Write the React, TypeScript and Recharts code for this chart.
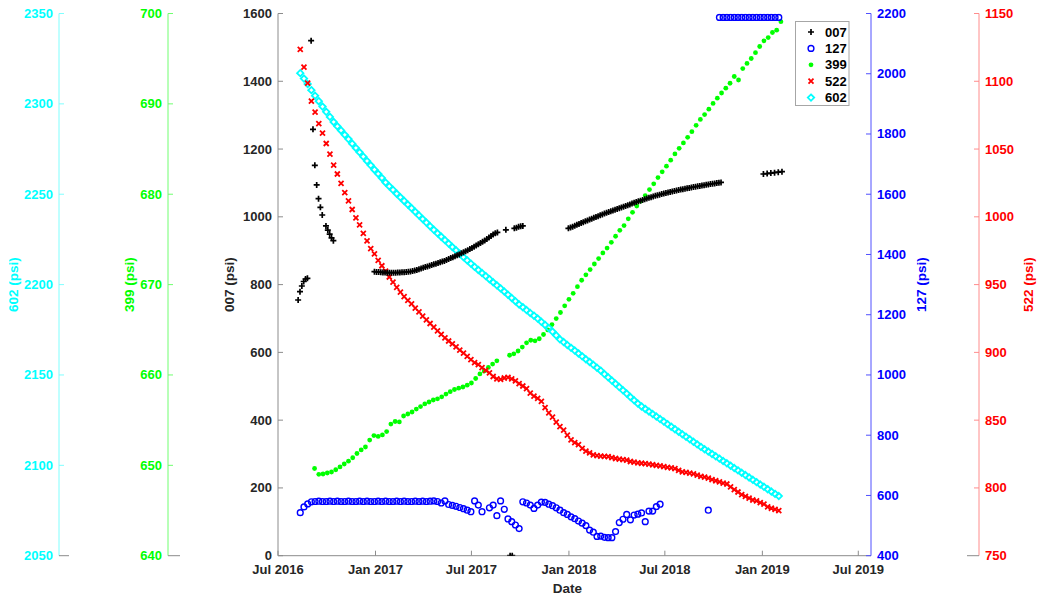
import React from 'react';
import { ScatterChart, Scatter, XAxis, YAxis, Legend } from 'recharts';

const FONT = 'Arial, "Liberation Sans", Helvetica, sans-serif';
const DAY = 86400000;

// colours
const C007 = '#000000';
const C127 = '#0000ff';
const C399 = '#00ff00';
const C522 = '#ff0000';
const C602 = '#00ffff';
const TXT = '#262626';
const GREY = '#8c8c8c';

// x axis (dates)
const xStart = '2016-07-01';
const xEnd = '2019-07-25';
const xTickDates = ['2016-07-01', '2017-01-01', '2017-07-01', '2018-01-01', '2018-07-01', '2019-01-01', '2019-07-01'];
const MONTHS = ['Jan', 'Feb', 'Mar', 'Apr', 'May', 'Jun', 'Jul', 'Aug', 'Sep', 'Oct', 'Nov', 'Dec'];

// y axis ticks
const ticks007 = [0, 200, 400, 600, 800, 1000, 1200, 1400, 1600];
const ticks127 = [400, 600, 800, 1000, 1200, 1400, 1600, 1800, 2000, 2200];
const ticks399 = [640, 650, 660, 670, 680, 690, 700];
const ticks522 = [750, 800, 850, 900, 950, 1000, 1050, 1100, 1150];
const ticks602 = [2050, 2100, 2150, 2200, 2250, 2300, 2350];

type Run = { start: string; step: number; values: (number | null)[] };

// 007 (psi) - irregular sampling, several runs
const vals007a = [754.6, 779.1, 795.9, 809.2, 816.5, 818.6, null, 1519.8, 1258.3, 1152.1, 1094, 1053.5, 1028.1, 1005.4, null, 973, 961, 949, 938, 929.6];
const vals007b = [
  838, 837.5, 837, 836.5, 836, 835.5, 835.3, 835.2, 835.1, 835.1, 835.2, 835.4, 835.7, 836.2, 836.7, 837.2, 837.7, 838.3, 839.8, 841.5,
  843.3, 845.4, 847.5, 849.5, 851.7, 853.5, 855.5, 857.6, 859.7, 861.7, 863.7, 865.8, 867.8, 870, 872.7, 875.5, 878.3, 881, 883.7, 886.4,
  889, 892.2, 895.3, 898.5, 901.7, 905, 908.3, 911.7, 915.2, 918.8, 922.5, 926.2, 930, 934.3, 938.7, 943.1, 947.5, 951.2, 954,
];
const vals007c = [961.7];
const vals007d = [0, 0];
const vals007e = [966, 968, 970.5, 972, 973];
const vals007f = [
  966, 968.5, 971, 973.6, 976.3, 979, 981.7, 984.2, 986.8, 989.4, 991.9, 994.4, 997, 999.5, 1002, 1004.6, 1007, 1009.5, 1011.8, 1014.1,
  1016.3, 1018.6, 1020.9, 1023.1, 1025.3, 1027.6, 1029.9, 1032.1, 1034.4, 1036.7, 1039, 1041.4, 1043.6, 1045.7, 1047.8, 1049.9, 1052, 1054.1, 1056.1, 1058,
  1060, 1061.9, 1063.7, 1065.5, 1067.2, 1068.8, 1070.3, 1071.8, 1073.4, 1074.9, 1076.2, 1077.6, 1079, 1080.4, 1081.6, 1082.9, 1084.1, 1085.4, 1086.7, 1087.9,
  1089.1, 1090.2, 1091.3, 1092.4, 1093.4, 1094.5, 1095.5, 1096.6, 1097.6, 1098.7, 1099.7, 1100.6, 1101.5,
];
const vals007g = [1126.4, 1127.7, 1129, 1130.4, 1131.8, 1133.2];

// weekly readings from 2016-08-12
const weeklyStart = '2016-08-12';

const vals127 = [
  543, 562, 572, 579,
  580, 581, 580, 580, 581, 580, 581, 580, 580, 581, 580, 580, 581, 580, 581, 580,
  580, 581, 580, 581, 580, 580, 581, 580, 581, 580, 580, 581, 580, 581, 580, 581,
  582, 580, 575, 582, 570, 567, 564, 560, 556, 551, 546, 582, 568, 546,
  null,
  559, 568, 533, 582, 554, 522, 513, 502, 490,
  579, 575, 568, 557, 568, 578, 577, 571, 566, 559, 551, 543, 537, 529, 523, 515, 508, 500, 485, 478,
  464, 465, 461, 460, 460, 480, 510, 521, 537, 519, 535, 538, 542, 513, 548, 548, 563, 571,
  null, null, null, null, null, null, null, null, null, null, null, null,
  551, null, null,
  2187, 2187, 2187, 2187, 2187, 2187, 2187, 2187, 2187, 2187, 2187, 2187, 2187, 2187, 2187, 2187, 2187,
];

const vals522 = [
  1123.6, 1110.5, 1098.7, 1085.4, 1077.3, 1068.8, 1061.8, 1054.1, 1046.3, 1038.2, 1031.6, 1024.6, 1017.9, 1011.7, 1005.4, 999.3, 994, 987.8, 982.2, 976.6,
  972.6, 967.8, 963.9, 960, 955.6, 951.9, 947.9, 944.5, 941.2, 938.3, 935.7, 932.7, 929.8, 926.8, 923.9, 921.3, 918.7, 915.8, 913.2, 910.7,
  908.4, 906.2, 904, 901.7, 899.5, 897, 894.7, 892.5, 891, 888.8, 886.8, 884.8, 882.2, 880.4, 880, 881.1, 881.6, 880.4, 878.9, 877,
  875.2, 873.3, 870, 867.8, 866, 863.8, 859.3, 855.3, 852.3, 848.6, 845.3, 842.7, 839, 835.4, 833.5, 832, 829.1, 827.2, 825.8, 824.3,
  823.8, 823.5, 823.3, 823.1, 822.4, 821.7, 821.3, 820.9, 820.5, 819.5, 819, 818.5, 818.2, 817.9, 817.5, 817.1, 816.7, 816.3, 815.7, 815.2,
  814.8, 814.3, 812.9, 811.8, 811.4, 811, 810.4, 809.5, 808.6, 807.9, 807.2, 806.2, 805.3, 804.4, 803.6, 802.9, 800.8, 798.8, 797, 795.1,
  793.8, 792.4, 791.1, 790.4, 789.2, 788.1, 786.1, 785, 784.2, 783.3,
];

const vals602 = [
  2317, 2314, 2311, 2307.6, 2304.5, 2301.5, 2298.5, 2295.6, 2292.8, 2290, 2287.6, 2285.3, 2282.9, 2280.5, 2278, 2275.6, 2273.2, 2270.8, 2268.4, 2266,
  2263.6, 2261.3, 2259, 2256.5, 2254.4, 2252.4, 2250.3, 2248.3, 2246.3, 2244.3, 2242.3, 2240.3, 2238.3, 2236.3, 2234.3, 2232.3, 2230.3, 2228.4, 2226.5, 2224.6,
  2222.7, 2220.8, 2219, 2217.1, 2215.2, 2213.4, 2211.6, 2209.8, 2208.1, 2206.4, 2204.7, 2203, 2201.3, 2199.6, 2197.9, 2196.2, 2194.4, 2192.6, 2190.8, 2189,
  2187.5, 2185.9, 2184.3, 2182.8, 2181.2, 2179.4, 2177.7, 2176, 2174, 2171.9, 2169.7, 2168.2, 2166.6, 2165, 2163.5, 2161.9, 2160.3, 2158.7, 2157.2, 2155.6,
  2154, 2152.4, 2150.5, 2148.7, 2146.9, 2145.1, 2143.3, 2141.5, 2139.7, 2137.8, 2136, 2134.2, 2132.6, 2131.2, 2129.8, 2128.4, 2127, 2125.6, 2124.2, 2122.8,
  2121.4, 2120, 2118.6, 2117.2, 2115.8, 2114.4, 2113, 2111.6, 2110.2, 2108.9, 2107.6, 2106.3, 2105, 2103.7, 2102.4, 2101.1, 2099.8, 2098.5, 2097.2, 2095.9,
  2094.6, 2093.3, 2092, 2090.7, 2089.4, 2088.1, 2086.8, 2085.5, 2084.2, 2083,
];

// 399 (psi) - every 8 days from 2016-09-08
const start399 = '2016-09-08';
const vals399 = [
  649.65, 649.0, 649.04, 649.15, 649.26, 649.51, 649.82, 650.15, 650.46, 650.84, 651.31, 651.7, 652.03, 652.8, 653.29, 653.2, 653.36, 653.74, 654.57, 654.85,
  654.8, 655.46, 655.68, 655.9, 656.23, 656.5, 656.79, 657.01, 657.23, 657.36, 657.58, 657.89, 658.15, 658.39, 658.54, 658.67, 658.87, 659.11, 659.61, 660.11,
  660.44, 660.83, 661.21, 661.57, null, null, 662.18, 662.34, 662.65, 663.09, 663.56, 663.84, 663.78, 664.01, 664.48, 664.98, 665.58, 666.24, 666.91, 667.65,
  668.37, 669.03, 669.77, 670.48, 671.08, 671.66, 672.28, 672.88, 673.5, 674.04, 674.68, 675.35, 676.01, 676.53, 677.28, 678.0, 678.7, 679.24, 679.85, 680.52,
  681.15, 681.84, 682.48, 683.1, 683.77, 684.46, 685.08, 685.68, 686.3, 686.92, 687.62, 688.28, 688.82, 689.41, 690.05, 690.63, 691.2, 691.74, 692.28, 693.03,
  692.64, 693.91, 694.47, 695.02, 695.67, 696.35, 696.98, 697.34, 697.9, 698.15, 699.09,
];

const runs007: Run[] = [
  { start: '2016-08-08', step: 3.5, values: vals007a },
  { start: '2016-12-30', step: 4, values: vals007b },
  { start: '2017-09-04', step: 4, values: vals007c },
  { start: '2017-09-12', step: 4, values: vals007d },
  { start: '2017-09-20', step: 4, values: vals007e },
  { start: '2017-12-31', step: 4, values: vals007f },
  { start: '2019-01-03', step: 7, values: vals007g },
];

function toPoints(runs: Run[]) {
  const pts: { t: number; v: number }[] = [];
  runs.forEach(r => {
    const t0 = Date.parse(r.start);
    r.values.forEach((v, k) => {
      if (v !== null) pts.push({ t: t0 + k * r.step * DAY, v });
    });
  });
  return pts;
}

const data007 = toPoints(runs007);
const data127 = toPoints([{ start: weeklyStart, step: 7, values: vals127 }]);
const data399 = toPoints([{ start: start399, step: 8, values: vals399 }]);
const data522 = toPoints([{ start: weeklyStart, step: 7, values: vals522 }]);
const data602 = toPoints([{ start: weeklyStart, step: 7, values: vals602 }]);

// marker shapes (MATLAB style)
const PlusMark = ({ cx, cy }: any) => (
  <path d={`M${cx - 3},${cy}H${cx + 3}M${cx},${cy - 3}V${cy + 3}`} stroke={C007} strokeWidth={1.7} fill="none" />
);
const CircleMark = ({ cx, cy }: any) => (
  <circle cx={cx} cy={cy} r={2.9} stroke={C127} strokeWidth={1.4} fill="none" />
);
const DotMark = ({ cx, cy }: any) => <circle cx={cx} cy={cy} r={2.4} fill={C399} />;
const CrossMark = ({ cx, cy }: any) => (
  <path d={`M${cx - 2.5},${cy - 2.5}L${cx + 2.5},${cy + 2.5}M${cx - 2.5},${cy + 2.5}L${cx + 2.5},${cy - 2.5}`} stroke={C522} strokeWidth={1.8} fill="none" />
);
const DiamondMark = ({ cx, cy }: any) => (
  <path d={`M${cx},${cy - 3.2}L${cx + 3.2},${cy}L${cx},${cy + 3.2}L${cx - 3.2},${cy}Z`} stroke={C602} strokeWidth={1.8} fill="none" />
);

const legendItems = [
  { name: '007', Mark: PlusMark },
  { name: '127', Mark: CircleMark },
  { name: '399', Mark: DotMark },
  { name: '522', Mark: CrossMark },
  { name: '602', Mark: DiamondMark },
];

const LegendBox = () => (
  <svg width={55} height={86} style={{ display: 'block' }}>
    <rect x={0.5} y={0.5} width={53.5} height={84} fill="#fff" stroke="#a6a6a6" />
    {legendItems.map((it, i) => {
      const y = 11 + i * 16.4;
      return (
        <g key={it.name}>
          <it.Mark cx={16} cy={y} />
          <text x={30} y={y} dominantBaseline="central" fill="#000" fontFamily={FONT} fontWeight={700} fontSize={13}>
            {it.name}
          </text>
        </g>
      );
    })}
  </svg>
);

// ticks point into the plot, like MATLAB
function makeYTick(side: 'left' | 'right', lineColor: string, textColor: string, stubValue?: number, stubLen?: number) {
  return (props: any) => {
    const { x, y, payload } = props;
    const dir = side === 'left' ? 1 : -1;
    const isStub = stubValue !== undefined && payload.value === stubValue;
    const len = isStub ? (stubLen as number) : 5;
    return (
      <g>
        <line x1={x} y1={y} x2={x + dir * len} y2={y} stroke={isStub ? GREY : lineColor} />
        <text
          x={x - dir * 6}
          y={y}
          textAnchor={side === 'left' ? 'end' : 'start'}
          dominantBaseline="central"
          fill={textColor}
          fontFamily={FONT}
          fontWeight={700}
          fontSize={13}
        >
          {payload.value}
        </text>
      </g>
    );
  };
}

const XTick = (props: any) => {
  const { x, y, payload } = props;
  const d = new Date(payload.value);
  return (
    <g>
      <line x1={x} y1={y} x2={x} y2={y - 5} stroke={GREY} />
      <text x={x} y={y + 14} textAnchor="middle" dominantBaseline="central" fill={TXT} fontFamily={FONT} fontWeight={700} fontSize={13}>
        {MONTHS[d.getUTCMonth()]} {d.getUTCFullYear()}
      </text>
    </g>
  );
};

const AxisTitle = (props: any) => {
  const { viewBox, text, color, dx, side } = props;
  if (!viewBox) return null;
  const ax = side === 'left' ? viewBox.x + viewBox.width : viewBox.x;
  const cx = ax + dx;
  const cy = viewBox.y + viewBox.height / 2;
  return (
    <text
      x={cx}
      y={cy}
      transform={`rotate(-90 ${cx} ${cy})`}
      textAnchor="middle"
      dominantBaseline="central"
      fill={color}
      fontFamily={FONT}
      fontWeight={700}
      fontSize={13.5}
    >
      {text}
    </text>
  );
};

const DateTitle = (props: any) => {
  const { viewBox } = props;
  if (!viewBox) return null;
  return (
    <text
      x={viewBox.x + viewBox.width / 2 - 7}
      y={viewBox.y + 32.6}
      textAnchor="middle"
      dominantBaseline="central"
      fill={TXT}
      fontFamily={FONT}
      fontWeight={700}
      fontSize={13.5}
    >
      Date
    </text>
  );
};

export default function App() {
  const xDomain = [Date.parse(xStart), Date.parse(xEnd)];
  const xTicks = xTickDates.map(d => Date.parse(d));

  return (
    <div style={{ position: 'absolute', left: 0, top: 0, width: 1037, height: 597, background: '#fff' }}>
      <ScatterChart width={1037} height={597} margin={{ top: 13.5, right: 0, bottom: 0, left: 0 }}>
        <XAxis
          dataKey="t"
          type="number"
          domain={xDomain}
          ticks={xTicks}
          interval={0}
          allowDataOverflow
          height={41.3}
          tickSize={0}
          tickMargin={0}
          tickLine={false}
          axisLine={{ stroke: GREY }}
          tick={<XTick />}
          label={<DateTitle />}
        />
        <YAxis
          yAxisId="p007"
          orientation="left"
          width={110}
          dataKey="v"
          type="number"
          domain={[0, 1600]}
          ticks={ticks007}
          interval={0}
          allowDataOverflow
          tickSize={0}
          tickMargin={0}
          tickLine={false}
          axisLine={{ stroke: GREY }}
          tick={makeYTick('left', GREY, TXT)}
          label={<AxisTitle text="007 (psi)" color={TXT} dx={-48} side="left" />}
        />
        <YAxis
          yAxisId="p399"
          orientation="left"
          width={109}
          dataKey="v"
          type="number"
          domain={[640, 700]}
          ticks={ticks399}
          interval={0}
          allowDataOverflow
          tickSize={0}
          tickMargin={0}
          tickLine={false}
          axisLine={{ stroke: '#70ff70' }}
          tick={makeYTick('left', '#70ff70', C399, 640, 12)}
          label={<AxisTitle text="399 (psi)" color={C399} dx={-38} side="left" />}
        />
        <YAxis
          yAxisId="p602"
          orientation="left"
          width={59}
          dataKey="v"
          type="number"
          domain={[2050, 2350]}
          ticks={ticks602}
          interval={0}
          allowDataOverflow
          tickSize={0}
          tickMargin={0}
          tickLine={false}
          axisLine={{ stroke: '#80ffff' }}
          tick={makeYTick('left', '#80ffff', C602, 2050, 10)}
          label={<AxisTitle text="602 (psi)" color={C602} dx={-45.5} side="left" />}
        />
        <YAxis
          yAxisId="p127"
          orientation="right"
          width={108}
          dataKey="v"
          type="number"
          domain={[400, 2200]}
          ticks={ticks127}
          interval={0}
          allowDataOverflow
          tickSize={0}
          tickMargin={0}
          tickLine={false}
          axisLine={{ stroke: '#5050ff' }}
          tick={makeYTick('right', '#5050ff', C127)}
          label={<AxisTitle text="127 (psi)" color={C127} dx={50.5} side="right" />}
        />
        <YAxis
          yAxisId="p522"
          orientation="right"
          width={58}
          dataKey="v"
          type="number"
          domain={[750, 1150]}
          ticks={ticks522}
          interval={0}
          allowDataOverflow
          tickSize={0}
          tickMargin={0}
          tickLine={false}
          axisLine={{ stroke: '#ff8c8c' }}
          tick={makeYTick('right', '#ff8c8c', C522, 750, 12)}
          label={<AxisTitle text="522 (psi)" color={C522} dx={50} side="right" />}
        />
        <Scatter name="399" data={data399} yAxisId="p399" shape={DotMark} isAnimationActive={false} />
        <Scatter name="602" data={data602} yAxisId="p602" shape={DiamondMark} isAnimationActive={false} />
        <Scatter name="522" data={data522} yAxisId="p522" shape={CrossMark} isAnimationActive={false} />
        <Scatter name="127" data={data127} yAxisId="p127" shape={CircleMark} isAnimationActive={false} />
        <Scatter name="007" data={data007} yAxisId="p007" shape={PlusMark} isAnimationActive={false} />
        <Legend
          layout="vertical"
          align="center"
          verticalAlign="middle"
          content={() => <LegendBox />}
          wrapperStyle={{ left: 795, top: 21, width: 55, height: 86 }}
        />
      </ScatterChart>
    </div>
  );
}
